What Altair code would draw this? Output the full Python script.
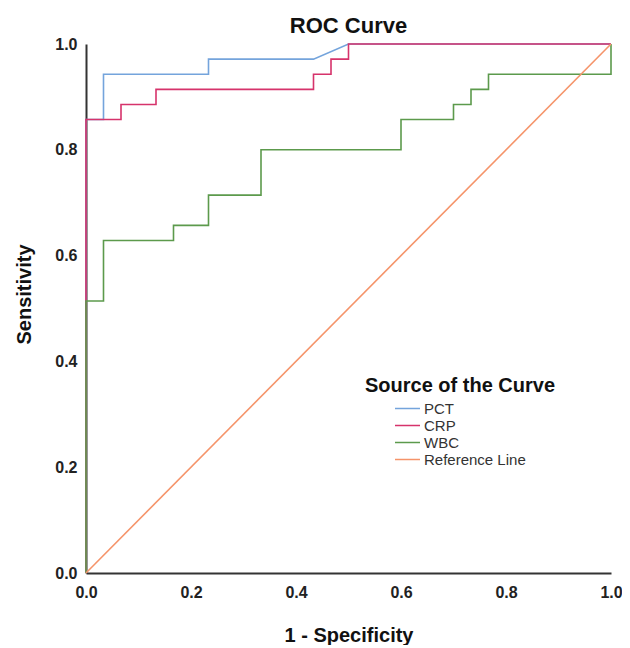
import altair as alt
import pandas as pd

# ROC step curves (1 - specificity, sensitivity); 30 negatives, 35 positives
pct_x = [0, 0, 1/30, 1/30, 7/30, 7/30, 13/30, 15/30, 1]
pct_y = [0, 30/35, 30/35, 33/35, 33/35, 34/35, 34/35, 1, 1]

crp_x = [0, 0, 2/30, 2/30, 4/30, 4/30, 13/30, 13/30, 14/30, 14/30, 15/30, 15/30, 1]
crp_y = [0, 30/35, 30/35, 31/35, 31/35, 32/35, 32/35, 33/35, 33/35, 34/35, 34/35, 1, 1]

wbc_x = [0, 0, 1/30, 1/30, 5/30, 5/30, 7/30, 7/30, 10/30, 10/30, 18/30, 18/30,
         21/30, 21/30, 22/30, 22/30, 23/30, 23/30, 1, 1]
wbc_y = [0, 18/35, 18/35, 22/35, 22/35, 23/35, 23/35, 25/35, 25/35, 28/35, 28/35, 30/35,
         30/35, 31/35, 31/35, 32/35, 32/35, 33/35, 33/35, 1]

ref_x = [0, 1]
ref_y = [0, 1]

series = ["PCT", "CRP", "WBC", "Reference Line"]
colors = ["#74a4dc", "#d6336b", "#5c9a4c", "#f5946a"]

rows = []
for name, xs, ys in zip(series, [pct_x, crp_x, wbc_x, ref_x], [pct_y, crp_y, wbc_y, ref_y]):
    for i, (a, b) in enumerate(zip(xs, ys)):
        rows.append({"series": name, "idx": i, "x": a, "y": b})
df = pd.DataFrame(rows)

font = "Liberation Sans"

chart = alt.Chart(df).mark_line(strokeWidth=1.6).encode(
    x=alt.X("x:Q", scale=alt.Scale(domain=[0, 1], nice=False),
            axis=alt.Axis(title="1 - Specificity", values=[0, 0.2, 0.4, 0.6, 0.8, 1.0],
                          format=".1f", grid=False, ticks=False, domainColor="#333333",
                          domainWidth=2, labelFont=font, labelFontWeight="bold",
                          labelFontSize=16, labelColor="#222222", labelPadding=11,
                          labelFlush=False, labelOverlap=False,
                          titleFont=font, titleFontSize=20,
                          titleFontWeight="bold", titleColor="#111111", titlePadding=25)),
    y=alt.Y("y:Q", scale=alt.Scale(domain=[0, 1], nice=False),
            axis=alt.Axis(title="Sensitivity", values=[0, 0.2, 0.4, 0.6, 0.8, 1.0],
                          format=".1f", grid=False, ticks=False, domainColor="#333333",
                          domainWidth=2, labelFont=font, labelFontWeight="bold",
                          labelFontSize=16, labelColor="#222222", labelPadding=9,
                          labelFlush=False, labelOverlap=False,
                          titleFont=font, titleFontSize=20, titleY=250,
                          titleFontWeight="bold", titleColor="#111111", titlePadding=20)),
    color=alt.Color("series:N", sort=series,
                    scale=alt.Scale(domain=series, range=colors),
                    legend=alt.Legend(title="Source of the Curve", orient="none",
                                      legendX=279, legendY=332, symbolType="stroke",
                                      symbolSize=625, symbolStrokeWidth=1.6,
                                      clipHeight=15, titleLimit=400,
                                      labelFont=font, labelFontSize=15,
                                      labelColor="#333333", labelOffset=3,
                                      rowPadding=1, titleFont=font,
                                      titleFontSize=20, titleFontWeight="bold",
                                      titleColor="#111111", titleAnchor="middle",
                                      titlePadding=5)),
    order="idx:Q",
).properties(
    width=525, height=529,
    title=alt.Title("ROC Curve", font=font, fontSize=22, fontWeight="bold",
                    color="#111111", offset=-2),
    autosize=alt.AutoSizeParams(type="none"),
    padding={"left": 78, "top": 36, "right": 11, "bottom": 72},
).configure_view(stroke=None)

chart.save("out.html", embed_options={"renderer": "svg", "actions": False})
